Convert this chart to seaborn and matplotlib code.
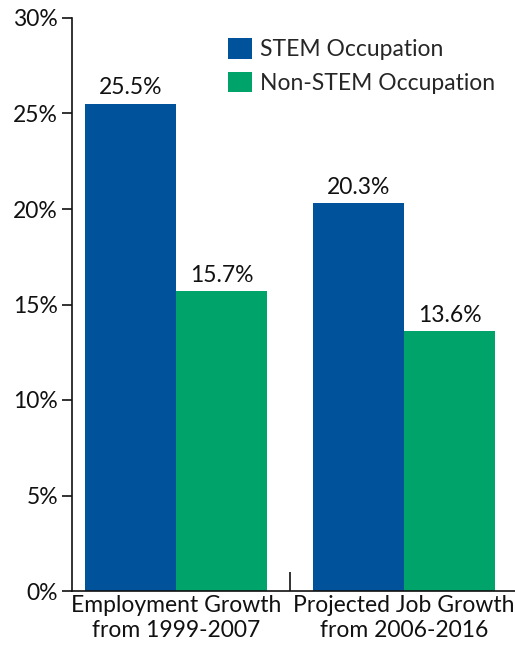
import pandas as pd
import matplotlib.pyplot as plt
import seaborn as sns
from matplotlib.ticker import FuncFormatter, FixedLocator

# Data
categories = ["Employment Growth\nfrom 1999-2007", "Projected Job Growth\nfrom 2006-2016"]
groups = ["STEM Occupation", "Non-STEM Occupation"]
stem_values = [25.5, 20.3]
non_stem_values = [15.7, 13.6]
colors = ["#00529B", "#00A36A"]

data = pd.DataFrame({
    "Category": categories * 2,
    "Group": [groups[0]] * 2 + [groups[1]] * 2,
    "Growth": stem_values + non_stem_values,
})

sns.set_style("white")
plt.rcParams["font.family"] = ["Lato", "DejaVu Sans"]
fs = 16.5

fig = plt.figure(figsize=(5.15, 6.52), dpi=100)
ax = fig.add_axes([72 / 515, 61 / 652, 443 / 515, 573 / 652])

sns.barplot(data=data, x="Category", y="Growth", hue="Group",
            palette=colors, width=0.8, saturation=1, linewidth=0, ax=ax)

for container in ax.containers:
    ax.bar_label(container, labels=[f"{v:.1f}%" for v in container.datavalues],
                 padding=4, fontsize=fs, color="#111111")

ax.set_xlim(-0.456, 1.487)
ax.set_ylim(0, 30)
ax.set_yticks(range(0, 31, 5))
ax.yaxis.set_major_formatter(FuncFormatter(lambda v, p: f"{v:.0f}%"))
ax.tick_params(axis="y", direction="out", length=7, width=1.2, labelsize=fs,
               left=True, color="#111111", labelcolor="#111111", pad=3)
ax.tick_params(axis="x", which="major", length=0, labelsize=fs,
               labelcolor="#111111", pad=3)
for lbl in ax.get_xticklabels():
    lbl.set_linespacing(1.2)
ax.xaxis.set_minor_locator(FixedLocator([0.5]))
ax.tick_params(axis="x", which="minor", direction="in", length=14, width=1.2,
               bottom=True, color="#111111")

ax.set_xlabel("")
ax.set_ylabel("")
for side in ["top", "right"]:
    ax.spines[side].set_visible(False)
for side in ["left", "bottom"]:
    ax.spines[side].set_color("#111111")
    ax.spines[side].set_linewidth(1.2)

ax.legend(loc="upper left", bbox_to_anchor=(228 / 515, 1 - 38 / 652),
          bbox_transform=fig.transFigure, frameon=False, fontsize=fs,
          handlelength=1.05, handleheight=1.0, handletextpad=0.35,
          labelspacing=0.5, borderpad=0, borderaxespad=0)

fig.savefig("out.png", dpi=100)
